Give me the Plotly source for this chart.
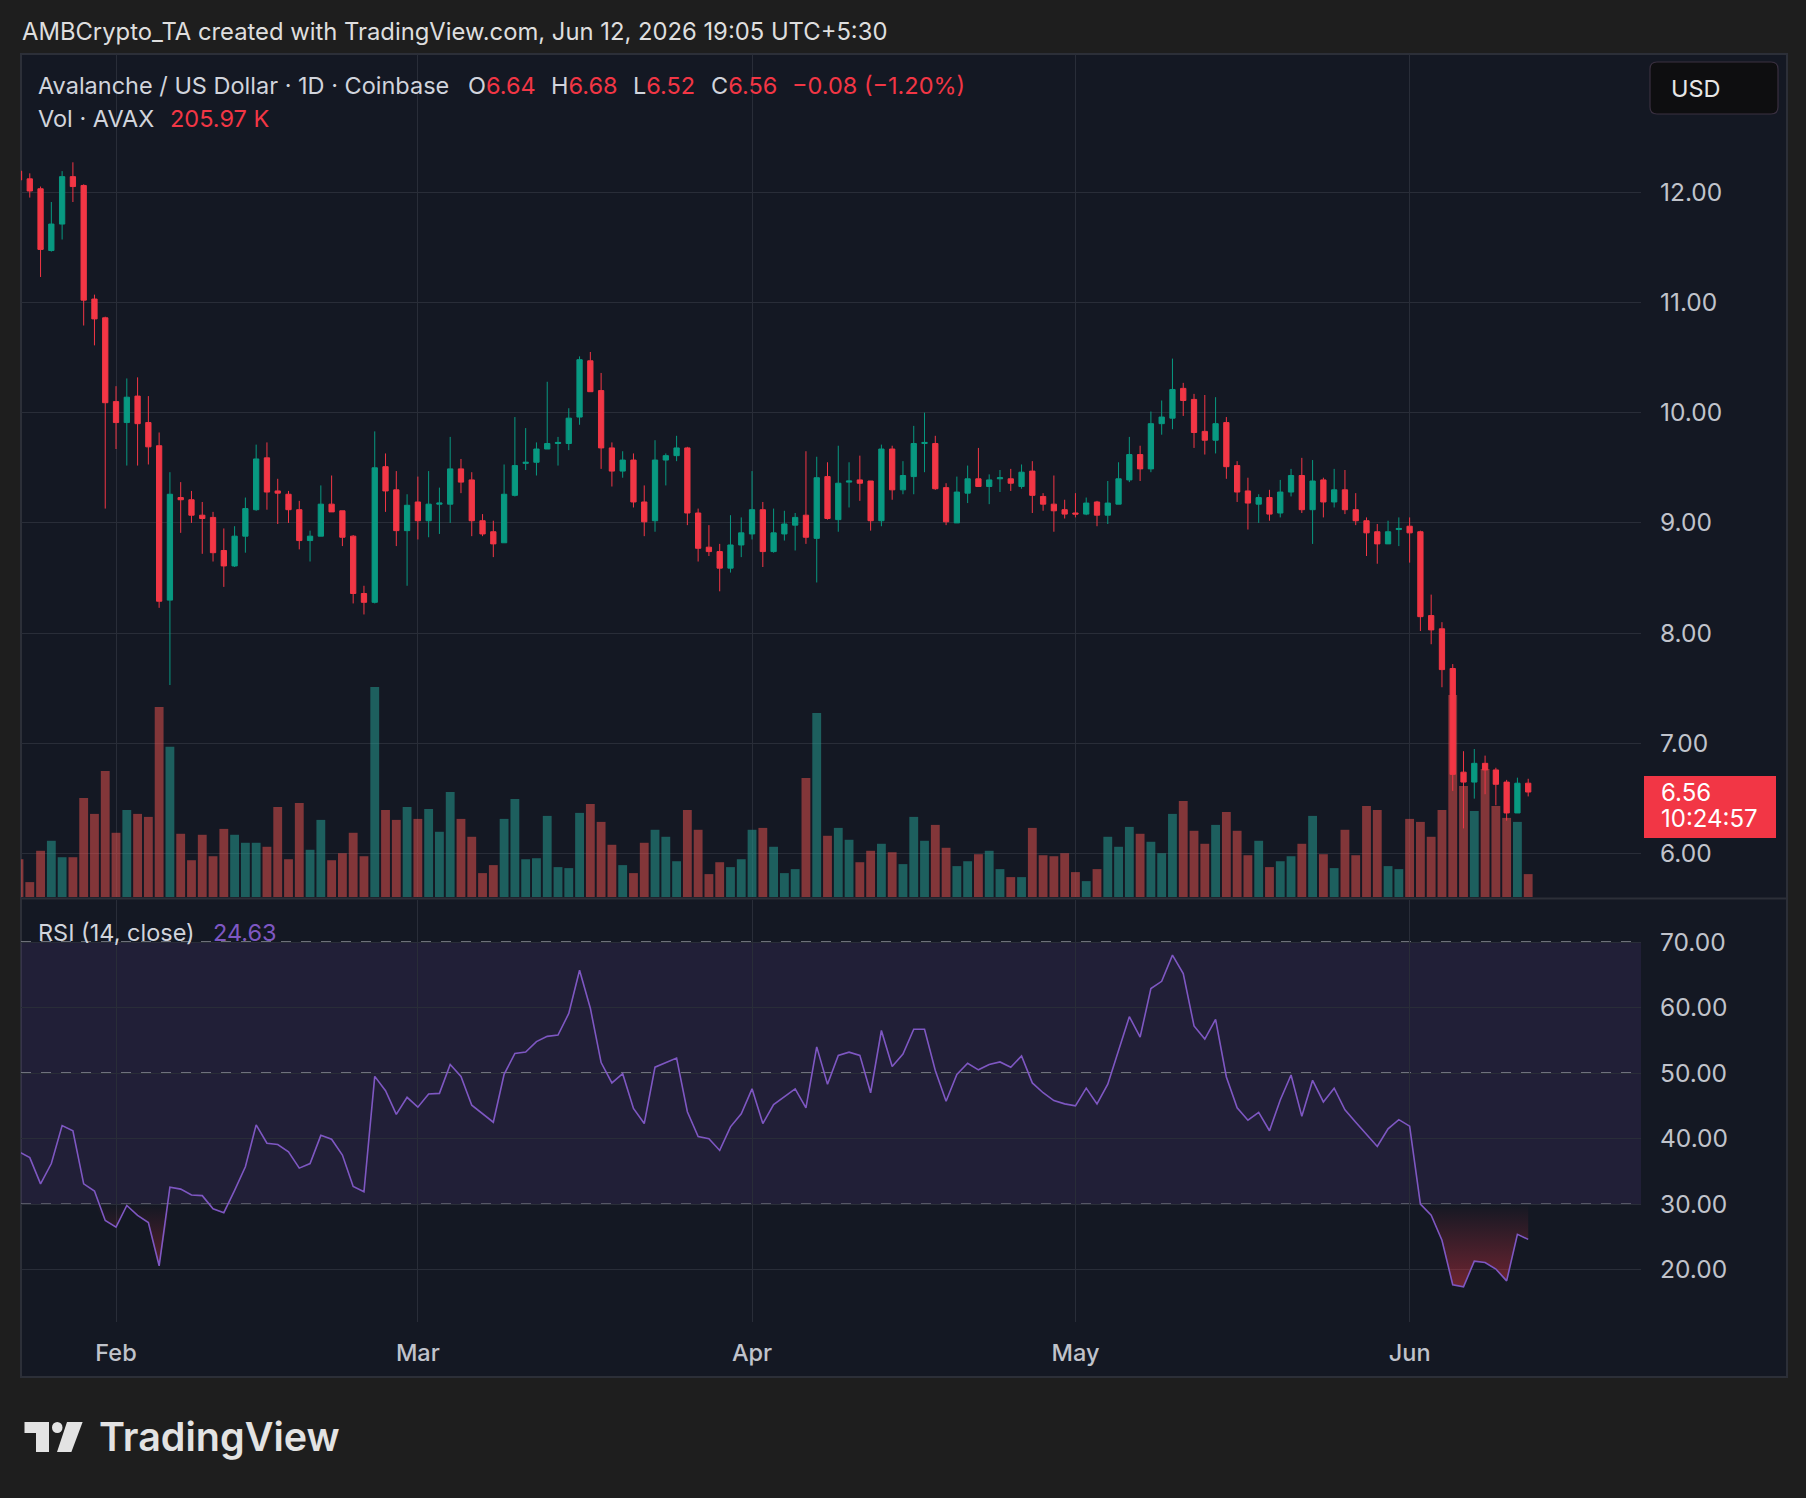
import plotly.graph_objects as go
import pandas as pd

W, H = 1806, 1498
def px(x): return x / W
def py(y): return 1 - y / H

# ---------------- data ----------------
start_date = "2026-01-23"
opens = [12.19, 12.12, 12.03, 11.47, 11.71, 12.14, 12.06, 11.03, 10.86, 10.10,
         9.91, 10.15, 9.91, 9.70, 8.30, 9.23, 9.21, 9.07, 9.05, 8.75,
         8.61, 8.88, 9.12, 9.59, 9.29, 9.26, 9.12, 8.84, 8.88, 9.17,
         9.11, 8.88, 8.36, 8.28, 9.51, 9.30, 8.93, 9.19, 9.02, 9.17,
         9.17, 9.49, 9.39, 9.02, 8.92, 8.82, 9.25, 9.54, 9.55, 9.67,
         9.72, 9.72, 9.96, 10.47, 10.20, 9.68, 9.47, 9.57, 9.19, 9.02,
         9.57, 9.61, 9.68, 9.09, 8.78, 8.74, 8.59, 8.80, 8.90, 9.12,
         8.74, 8.90, 8.98, 9.07, 8.86, 9.42, 9.03, 9.37, 9.39, 9.38,
         9.02, 9.67, 9.30, 9.42, 9.72, 9.72, 9.32, 9.00, 9.27, 9.40,
         9.33, 9.40, 9.40, 9.33, 9.47, 9.24, 9.17, 9.12, 9.09, 9.08,
         9.19, 9.07, 9.17, 9.39, 9.62, 9.49, 9.90, 9.95, 10.22, 10.12,
         9.83, 9.75, 9.91, 9.52, 9.29, 9.17, 9.23, 9.09, 9.28, 9.43,
         9.12, 9.39, 9.19, 9.30, 9.12, 9.02, 8.92, 8.81, 8.94, 8.97,
         8.92, 8.16, 8.04, 7.68, 6.74, 6.65, 6.82, 6.76, 6.65, 6.37,
         6.64]
highs = [12.50, 12.17, 12.05, 11.91, 12.19, 12.27, 12.07, 11.07, 10.87, 10.24,
         10.31, 10.32, 10.15, 9.82, 9.46, 9.37, 9.29, 9.19, 9.10, 8.95,
         8.97, 9.23, 9.71, 9.73, 9.40, 9.29, 9.20, 8.93, 9.34, 9.43,
         9.11, 8.89, 8.43, 9.83, 9.63, 9.47, 9.26, 9.42, 9.47, 9.32,
         9.78, 9.58, 9.46, 9.08, 9.02, 9.53, 9.96, 9.86, 9.73, 10.28,
         9.78, 10.04, 10.51, 10.55, 10.36, 9.73, 9.65, 9.63, 9.34, 9.75,
         9.63, 9.79, 9.69, 9.13, 8.98, 8.81, 9.07, 9.05, 9.47, 9.19,
         9.13, 9.11, 9.09, 9.65, 9.60, 9.55, 9.70, 9.55, 9.61, 9.38,
         9.71, 9.70, 9.56, 9.88, 10.00, 9.79, 9.36, 9.42, 9.52, 9.68,
         9.44, 9.48, 9.49, 9.53, 9.56, 9.27, 9.43, 9.21, 9.27, 9.23,
         9.20, 9.38, 9.55, 9.78, 9.70, 10.01, 10.11, 10.49, 10.27, 10.17,
         10.16, 10.14, 9.96, 9.56, 9.41, 9.26, 9.30, 9.39, 9.49, 9.59,
         9.57, 9.41, 9.49, 9.48, 9.27, 9.05, 8.99, 9.02, 9.05, 9.05,
         8.93, 8.35, 8.10, 7.72, 6.93, 6.95, 6.89, 6.78, 6.67, 6.69,
         6.68]
lows = [11.99, 11.95, 11.23, 11.46, 11.57, 11.91, 10.79, 10.61, 9.13, 9.67,
        9.52, 9.52, 9.53, 8.23, 7.53, 8.91, 9.00, 8.72, 8.65, 8.42,
        8.60, 8.73, 9.11, 9.12, 8.99, 9.00, 8.76, 8.65, 8.88, 9.10,
        8.79, 8.27, 8.17, 8.27, 9.10, 8.79, 8.43, 8.85, 8.87, 8.90,
        9.00, 9.27, 8.88, 8.88, 8.69, 8.82, 9.24, 9.48, 9.43, 9.67,
        9.52, 9.66, 9.89, 10.19, 9.49, 9.33, 9.41, 9.14, 8.88, 8.92,
        9.34, 9.56, 8.98, 8.65, 8.70, 8.38, 8.55, 8.69, 8.85, 8.60,
        8.73, 8.84, 8.75, 8.81, 8.46, 9.03, 8.92, 9.14, 9.20, 8.93,
        8.97, 9.21, 9.26, 9.26, 9.46, 9.30, 8.98, 9.00, 9.18, 9.33,
        9.17, 9.28, 9.29, 9.31, 9.09, 9.11, 8.92, 9.04, 9.05, 9.07,
        8.97, 8.99, 9.17, 9.37, 9.38, 9.46, 9.80, 9.85, 9.97, 9.68,
        9.62, 9.63, 9.40, 9.19, 8.94, 9.00, 9.02, 9.05, 9.24, 9.09,
        8.81, 9.05, 9.14, 9.08, 8.98, 8.70, 8.63, 8.81, 8.79, 8.64,
        8.02, 7.90, 7.51, 6.57, 6.23, 6.50, 6.54, 6.44, 6.30, 6.37,
        6.52]
closes = [12.11, 12.01, 11.48, 11.71, 12.14, 12.05, 11.02, 10.85, 10.09, 9.91,
          10.14, 9.90, 9.69, 8.29, 9.26, 9.21, 9.07, 9.04, 8.73, 8.61,
          8.88, 9.13, 9.58, 9.28, 9.27, 9.12, 8.84, 8.88, 9.17, 9.10,
          8.87, 8.36, 8.28, 9.50, 9.29, 8.93, 9.16, 9.02, 9.17, 9.18,
          9.49, 9.37, 9.02, 8.90, 8.81, 9.26, 9.52, 9.55, 9.67, 9.72,
          9.73, 9.95, 10.48, 10.19, 9.68, 9.47, 9.57, 9.19, 9.01, 9.57,
          9.61, 9.68, 9.09, 8.77, 8.74, 8.59, 8.80, 8.91, 9.12, 8.74,
          8.91, 8.99, 9.05, 8.87, 9.41, 9.04, 9.36, 9.38, 9.36, 9.02,
          9.67, 9.30, 9.43, 9.72, 9.73, 9.31, 9.01, 9.28, 9.40, 9.33,
          9.39, 9.41, 9.36, 9.46, 9.25, 9.17, 9.11, 9.08, 9.08, 9.18,
          9.07, 9.18, 9.40, 9.62, 9.49, 9.90, 9.96, 10.21, 10.11, 9.82,
          9.75, 9.90, 9.51, 9.28, 9.18, 9.23, 9.08, 9.28, 9.43, 9.12,
          9.38, 9.19, 9.30, 9.12, 9.02, 8.91, 8.81, 8.92, 8.95, 8.91,
          8.15, 8.03, 7.67, 6.72, 6.65, 6.82, 6.76, 6.63, 6.37, 6.64,
          6.56]
volume_k = [340, 134, 416, 506, 358, 358, 891, 748, 1133, 578,
            784, 748, 721, 1711, 1352, 569, 331, 560, 367, 613,
            560, 488, 488, 452, 811, 340, 846, 425, 694, 331,
            394, 578, 367, 1890, 784, 694, 811, 703, 793, 587,
            945, 703, 542, 215, 287, 703, 882, 340, 349, 730,
            269, 260, 757, 837, 676, 470, 287, 215, 488, 605,
            542, 322, 784, 605, 206, 313, 269, 340, 605, 622,
            452, 215, 251, 1070, 1657, 551, 622, 515, 313, 416,
            479, 403, 296, 721, 506, 649, 443, 278, 322, 385,
            416, 251, 179, 179, 622, 376, 367, 394, 224, 143,
            251, 542, 452, 631, 569, 497, 394, 748, 864, 596,
            479, 649, 766, 596, 376, 506, 269, 322, 367, 479,
            730, 385, 260, 605, 376, 819, 784, 278, 251, 703,
            676, 542, 784, 1818, 999, 775, 1151, 819, 712, 676,
            205.97]
rsi = [38.0, 37.1, 33.1, 36.2, 42.0, 41.2, 33.1, 32.0, 27.5, 26.5,
       29.8, 28.3, 27.2, 20.6, 32.6, 32.3, 31.4, 31.3, 29.3, 28.7,
       32.1, 35.7, 42.1, 39.3, 39.1, 38.0, 35.5, 36.2, 40.5, 39.9,
       37.5, 32.7, 31.9, 49.5, 47.3, 43.7, 46.3, 44.8, 46.8, 46.9,
       51.3, 49.5, 45.1, 43.8, 42.5, 49.8, 53.0, 53.2, 54.8, 55.6,
       55.8, 59.1, 65.7, 59.9, 51.6, 48.5, 49.9, 44.6, 42.3, 50.9,
       51.6, 52.3, 44.1, 40.3, 40.0, 38.2, 41.8, 43.8, 47.6, 42.3,
       45.2, 46.4, 47.6, 44.7, 54.0, 48.3, 52.7, 53.2, 52.7, 47.0,
       56.5, 51.0, 52.9, 56.7, 56.7, 50.4, 45.7, 49.8, 51.5, 50.5,
       51.3, 51.7, 50.9, 52.6, 48.5, 47.0, 45.8, 45.3, 45.0, 47.7,
       45.3, 48.3, 53.3, 58.6, 55.5, 62.9, 64.0, 68.0, 65.2, 57.2,
       55.2, 58.2, 49.4, 44.7, 42.8, 44.0, 41.2, 45.9, 49.7, 43.4,
       48.9, 45.6, 47.7, 44.4, 42.5, 40.7, 38.8, 41.5, 42.9, 41.9,
       30.0, 28.3, 24.5, 17.7, 17.4, 21.3, 21.1, 20.1, 18.3, 25.4,
       24.63]
month_ticks = ["2026-02-01", "2026-03-01", "2026-04-01", "2026-05-01", "2026-06-01"]
month_labels = ["Feb", "Mar", "Apr", "May", "Jun"]
price_ticks = [6, 7, 8, 9, 10, 11, 12]
rsi_ticks = [20, 30, 40, 50, 60, 70]
rsi_levels = [70, 50, 30]
last_close = closes[-1]

dates = pd.date_range(start_date, periods=len(closes), freq="D")
n = len(dates)

# ---------------- style ----------------
FONT = "Inter"
OUTER = "#1e1e1e"
PANE = "#141823"
GRID = "#292d38"
UP, DOWN = "#089981", "#f23645"
VOL_UP, VOL_DOWN = "rgba(38,166,154,0.5)", "rgba(239,83,80,0.5)"
AXIS_TXT = "#c0c3cb"
TXT = "#d1d4dc"
RSI_C = "#7e57c2"
AX_SIZE = 23.5
Y_SIZE = 24.5
TX_SIZE = 23.5

vol_colors = [VOL_UP if c > o else VOL_DOWN for o, c in zip(opens, closes)]

x_left, x_right = 21, 1641
day_px = 10.78
first_px = 19
x0 = dates[0] + pd.Timedelta(days=(x_left - first_px) / day_px)
x1 = dates[0] + pd.Timedelta(days=(x_right - first_px) / day_px)

fig = go.Figure()
fig.add_trace(go.Bar(x=dates, y=volume_k, marker=dict(color=vol_colors, line=dict(width=0)),
                     xaxis="x", yaxis="y", hoverinfo="skip", showlegend=False))
fig.add_trace(go.Candlestick(x=dates, open=opens, high=highs, low=lows, close=closes,
                             xaxis="x", yaxis="y2", whiskerwidth=0, showlegend=False,
                             increasing=dict(line=dict(color=UP, width=1), fillcolor=UP),
                             decreasing=dict(line=dict(color=DOWN, width=1), fillcolor=DOWN)))
fig.add_trace(go.Scatter(x=dates, y=[30] * n, mode="lines", line=dict(width=0, color="rgba(0,0,0,0)"),
                         xaxis="x2", yaxis="y3", hoverinfo="skip", showlegend=False))
fig.add_trace(go.Scatter(x=dates, y=[min(r, 30) for r in rsi], mode="lines",
                         line=dict(width=0, color="rgba(0,0,0,0)"), fill="tonexty",
                         fillgradient=dict(type="vertical",
                                           colorscale=[[0, "rgba(242,54,69,0.42)"], [1, "rgba(242,54,69,0.0)"]],
                                           start=17, stop=30),
                         xaxis="x2", yaxis="y3", hoverinfo="skip", showlegend=False))
fig.add_trace(go.Scatter(x=dates, y=rsi, mode="lines", line=dict(color=RSI_C, width=1.6),
                         xaxis="x2", yaxis="y3", showlegend=False))

shapes = []
shapes.append(dict(type="rect", xref="paper", yref="paper", x0=px(21), x1=px(1787), y0=py(1377), y1=py(54),
                   fillcolor=PANE, line=dict(color="#2c2f38", width=2), layer="below"))
shapes.append(dict(type="rect", xref="paper", yref="y3", x0=px(x_left), x1=px(x_right), y0=30, y1=70,
                   fillcolor="rgba(126,87,194,0.13)", line=dict(width=0), layer="below"))
for lv in rsi_levels:
    shapes.append(dict(type="line", xref="paper", yref="y3", x0=px(x_left), x1=px(x_right), y0=lv, y1=lv,
                       line=dict(color="#8a8d96", width=1.5, dash="10px,10px"), layer="between"))
shapes.append(dict(type="line", xref="paper", yref="paper", x0=px(21), x1=px(1787), y0=py(898.5), y1=py(898.5),
                   line=dict(color="#2c2f38", width=2)))

def rrect(xa, ya, xb, yb, r):
    return (f"M {px(xa + r)},{py(ya)} L {px(xb - r)},{py(ya)} Q {px(xb)},{py(ya)} {px(xb)},{py(ya + r)} "
            f"L {px(xb)},{py(yb - r)} Q {px(xb)},{py(yb)} {px(xb - r)},{py(yb)} "
            f"L {px(xa + r)},{py(yb)} Q {px(xa)},{py(yb)} {px(xa)},{py(yb - r)} "
            f"L {px(xa)},{py(ya + r)} Q {px(xa)},{py(ya)} {px(xa + r)},{py(ya)} Z")

shapes.append(dict(type="path", xref="paper", yref="paper", path=rrect(1650, 62, 1778, 114, 7),
                   fillcolor="#0e0e10", line=dict(color="#3a3040", width=1.2)))
ppu = 110.28
shapes.append(dict(type="rect", xref="paper", yref="y2", x0=px(1644), x1=px(1776),
                   y0=last_close - 46 / ppu, y1=last_close + 16 / ppu,
                   fillcolor="#f23645", line=dict(width=0)))
LOGO = "#e3e3e3"
shapes.append(dict(type="path", xref="paper", yref="paper",
                   path=f"M {px(24.5)},{py(1422)} L {px(49)},{py(1422)} L {px(49)},{py(1452)} L {px(36)},{py(1452)} "
                        f"L {px(36)},{py(1433)} L {px(24.5)},{py(1433)} Z",
                   fillcolor=LOGO, line=dict(width=0)))
shapes.append(dict(type="circle", xref="paper", yref="paper", x0=px(52), x1=px(62.5), y0=py(1433), y1=py(1422),
                   fillcolor=LOGO, line=dict(width=0)))
shapes.append(dict(type="path", xref="paper", yref="paper",
                   path=f"M {px(67)},{py(1422)} L {px(82.6)},{py(1422)} L {px(71.4)},{py(1452)} L {px(57)},{py(1452)} Z",
                   fillcolor=LOGO, line=dict(width=0)))

ann = []
def text(x, y, s, size=TX_SIZE, color=TXT, anchor="left", weight=None, yref="paper", ypos=None):
    f = dict(family=FONT, size=size, color=color)
    if weight:
        f["weight"] = weight
    ann.append(dict(x=px(x), y=(py(y) if ypos is None else ypos), xref="paper", yref=yref, text=s,
                    showarrow=False, xanchor=anchor, yanchor="middle", font=f))

text(20, 31, "AMBCrypto_TA created with TradingView.com, Jun 12, 2026 19:05 UTC+5:30", size=23.8, color="#dedede")
R = "#f23645"
def kv(k, v):
    return f"{k}<span style='color:{R}'>{v}</span>"
text(36, 85, "Avalanche / US Dollar · 1D · Coinbase")
text(466, 85, kv("O", f"{opens[-1]:.2f}"))
text(549, 85, kv("H", f"{highs[-1]:.2f}"))
text(631, 85, kv("L", f"{lows[-1]:.2f}"))
text(709, 85, kv("C", f"{closes[-1]:.2f}"))
chg = closes[-1] - closes[-2]
text(790, 85, f"−{abs(chg):.2f} (−{abs(chg) / closes[-2] * 100:.2f}%)", color=R)
text(36, 119, "Vol · AVAX")
text(168, 119, f"{volume_k[-1]:.2f} K", color=R)
text(36, 932, "RSI (14, close)")
text(211, 932, f"{rsi[-1]:.2f}", color=RSI_C)
text(1669, 88, "USD", size=23.5, color="#e6e6e6")
text(1659, 0, f"{last_close:.2f}", size=24, color="#ffffff", yref="y2", ypos=last_close)
text(1659, 0, "10:24:57", size=24, color="#ffffff", yref="y2", ypos=last_close - 26 / ppu)
text(97, 1437, "TradingView", size=39.5, color=LOGO, weight=600)

fig.update_layout(
    width=W, height=H, autosize=False,
    margin=dict(l=0, r=0, t=0, b=0),
    paper_bgcolor=OUTER, plot_bgcolor="rgba(0,0,0,0)",
    font=dict(family=FONT, color=AXIS_TXT),
    bargap=0.18, boxgap=0.3,
    showlegend=False, hovermode=False,
    shapes=shapes, annotations=ann,
    xaxis=dict(domain=[px(x_left), px(x_right)], anchor="y", type="date", range=[x0, x1],
               tickvals=month_ticks, showticklabels=False, showgrid=True, gridcolor=GRID, gridwidth=1,
               zeroline=False, showline=False, ticks="", rangeslider=dict(visible=False), fixedrange=True),
    xaxis2=dict(domain=[px(x_left), px(x_right)], anchor="y3", type="date", range=[x0, x1],
                tickvals=month_ticks, ticktext=month_labels, showgrid=True, gridcolor=GRID, gridwidth=1,
                zeroline=False, showline=False, ticks="", ticklabelstandoff=14,
                tickfont=dict(family=FONT, size=AX_SIZE, color=AXIS_TXT, weight=500), fixedrange=True),
    yaxis=dict(domain=[py(897), py(54)], range=[0, 7587], visible=False, fixedrange=True),
    yaxis2=dict(overlaying="y", anchor="x", side="right", range=[5.608, 13.252],
                tickvals=price_ticks, ticktext=[f"{v:.2f}" for v in price_ticks],
                showgrid=True, gridcolor=GRID, gridwidth=1, zeroline=False, showline=False, ticks="",
                ticklabelstandoff=18, tickfont=dict(family=FONT, size=Y_SIZE, color=AXIS_TXT), fixedrange=True),
    yaxis3=dict(domain=[py(1322), py(900)], anchor="x2", side="right", range=[12.02, 76.41],
                tickvals=rsi_ticks, ticktext=[f"{v:.2f}" for v in rsi_ticks],
                showgrid=True, gridcolor=GRID, gridwidth=1, zeroline=False, showline=False, ticks="",
                ticklabelstandoff=18, tickfont=dict(family=FONT, size=Y_SIZE, color=AXIS_TXT), fixedrange=True),
)

fig.write_html("out.html")
